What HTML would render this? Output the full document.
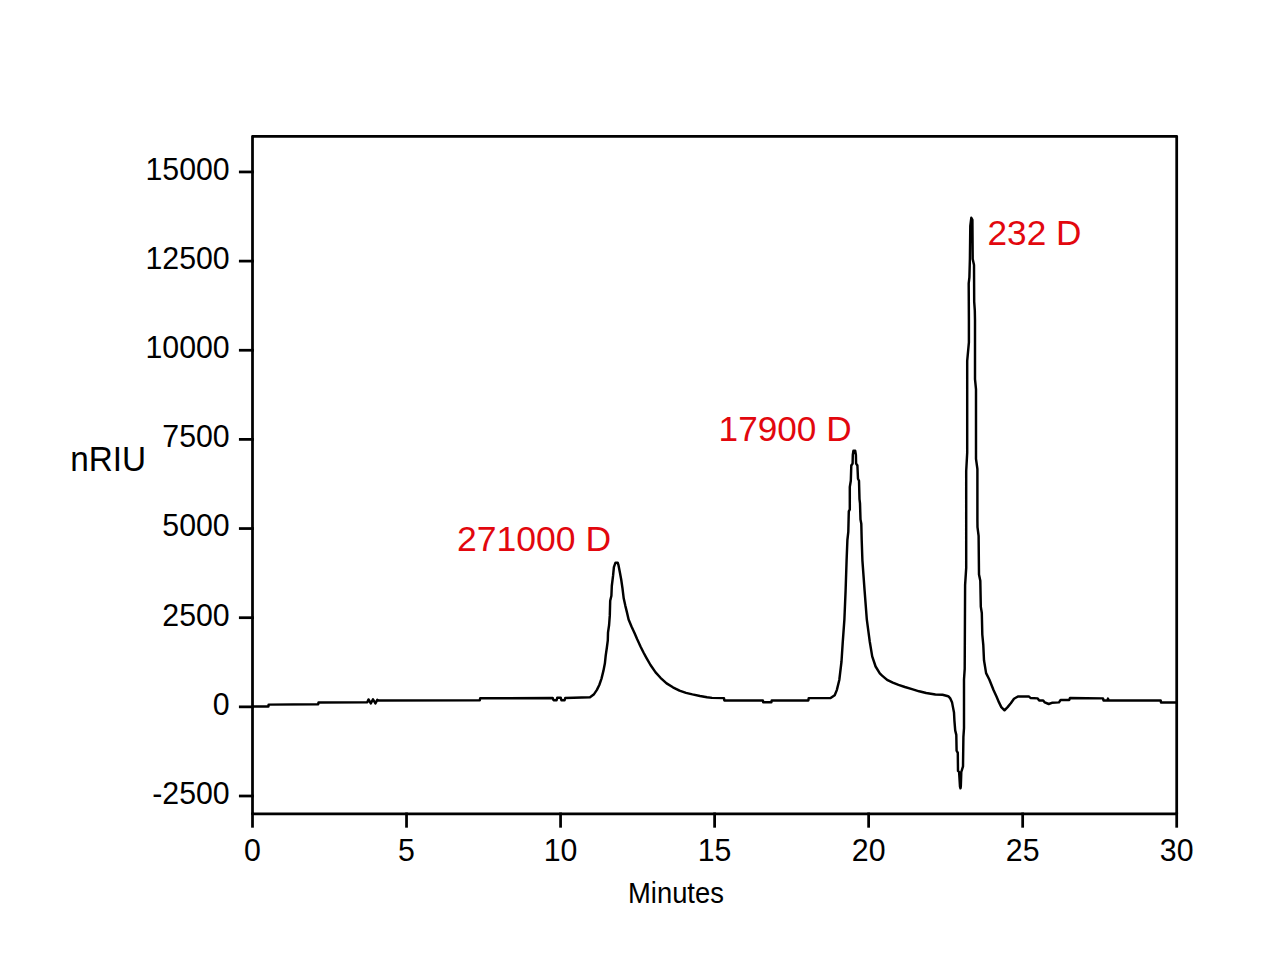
<!DOCTYPE html>
<html><head><meta charset="utf-8"><style>
html,body{margin:0;padding:0;background:#fff;width:1266px;height:980px;overflow:hidden}
svg{position:absolute;left:0;top:0;display:block}
text{font-family:"Liberation Sans",sans-serif}
</style></head><body>
<svg width="1266" height="980" viewBox="0 0 1266 980">
<g stroke="#000" stroke-width="2.75" fill="none" stroke-linecap="square">
<rect x="252.5" y="136.3" width="924.20" height="677.60" stroke-linejoin="round"/>
<line x1="240.3" y1="796.00" x2="252.50" y2="796.00"/><line x1="240.3" y1="706.85" x2="252.50" y2="706.85"/><line x1="240.3" y1="617.70" x2="252.50" y2="617.70"/><line x1="240.3" y1="528.55" x2="252.50" y2="528.55"/><line x1="240.3" y1="439.40" x2="252.50" y2="439.40"/><line x1="240.3" y1="350.25" x2="252.50" y2="350.25"/><line x1="240.3" y1="261.10" x2="252.50" y2="261.10"/><line x1="240.3" y1="171.95" x2="252.50" y2="171.95"/>
<line x1="252.50" y1="813.90" x2="252.50" y2="826.3"/><line x1="406.53" y1="813.90" x2="406.53" y2="826.3"/><line x1="560.57" y1="813.90" x2="560.57" y2="826.3"/><line x1="714.60" y1="813.90" x2="714.60" y2="826.3"/><line x1="868.63" y1="813.90" x2="868.63" y2="826.3"/><line x1="1022.67" y1="813.90" x2="1022.67" y2="826.3"/><line x1="1176.70" y1="813.90" x2="1176.70" y2="826.3"/>
</g>
<polyline points="252.5,706.5 268.4,706.5 268.6,704.6 318.2,704.2 318.5,702.4 367.3,702.3 368.5,699.4 370.8,703.4 373.0,699.4 375.4,703.4 377.3,699.9 378.2,700.4 479.8,700.3 480.2,698.3 552.7,698.0 553.5,700.2 556.6,700.2 557.2,697.8 560.8,697.8 561.4,700.2 564.6,700.2 565.2,698.0 590.0,697.3 593.7,694.6 596.9,689.9 599.3,685.0 601.5,678.6 603.4,670.9 604.9,663.3 605.7,655.6 606.8,648.0 607.8,640.3 608.0,632.7 609.1,625.0 609.8,615.4 610.2,600.7 611.4,595.8 611.8,586.0 613.1,575.4 613.9,567.2 615.5,562.7 617.7,562.7 618.4,564.8 620.0,573.0 621.2,579.5 622.4,587.7 623.7,598.3 625.3,605.6 626.9,612.1 628.6,619.5 631.5,626.5 634.5,633.0 637.2,639.3 640.5,646.5 643.5,652.5 646.4,657.8 650.5,665.0 655.6,672.4 660.5,677.8 666.6,683.4 672.9,687.3 679.5,690.6 686.0,692.9 692.4,694.4 700.0,696.0 707.0,697.2 712.0,697.9 724.0,698.1 724.3,700.4 762.9,700.4 763.2,702.2 771.4,702.2 771.7,700.4 808.4,700.4 808.7,698.1 830.6,698.1 834.7,695.3 836.8,690.1 839.3,680.0 841.5,661.5 842.7,642.9 844.4,619.3 845.6,590.6 846.6,560.3 847.4,540.0 848.3,531.8 848.8,511.4 849.8,509.4 849.8,486.9 850.8,480.8 851.3,465.5 852.6,463.5 852.8,455.0 853.4,450.8 855.2,450.8 855.9,455.0 856.1,463.5 857.4,465.5 858.0,478.8 859.0,480.8 859.5,499.2 860.0,503.3 860.5,519.6 861.3,523.7 861.7,540.0 862.4,560.3 864.6,590.6 866.8,619.3 869.7,641.2 872.2,656.4 875.6,666.5 879.8,673.3 882.1,675.6 887.1,679.9 892.8,682.7 898.5,684.9 904.9,687.0 912.0,689.1 919.1,691.3 926.2,693.0 935.4,694.5 942.5,694.8 948.2,696.2 950.3,698.4 952.1,702.6 952.9,706.9 954.0,712.5 954.4,720.3 955.2,730.4 956.3,734.9 956.6,750.7 957.8,752.9 958.0,770.9 959.1,772.0 960.0,786.6 960.5,788.3 960.8,786.6 961.3,772.0 963.0,766.4 963.4,737.2 964.0,728.2 964.0,720.3 964.0,679.5 964.7,668.8 965.1,585.1 966.2,567.9 966.2,520.0 966.2,471.0 967.2,452.7 967.2,360.8 968.9,342.4 968.9,320.0 968.7,283.4 969.4,277.3 969.9,259.0 970.3,225.9 971.3,217.8 972.4,219.8 972.7,259.0 974.0,265.1 974.2,301.8 974.8,310.4 975.0,320.0 975.0,379.2 976.0,389.4 976.0,458.8 977.4,469.0 977.4,520.0 977.5,527.2 978.6,535.8 979.0,574.4 980.3,580.8 980.8,606.6 981.8,613.0 982.3,634.5 983.3,645.2 984.0,660.2 986.1,673.1 989.3,679.5 993.6,690.3 996.6,696.8 999.0,702.4 1001.3,707.1 1004.5,710.3 1007.6,707.1 1010.8,703.2 1014.0,698.8 1017.9,696.5 1029.0,696.5 1030.5,698.0 1037.7,698.4 1039.2,700.4 1043.2,700.4 1044.8,702.4 1048.7,704.0 1051.9,702.8 1059.0,702.4 1060.6,700.0 1069.2,700.0 1070.0,698.0 1103.0,698.4 1103.5,700.4 1107.5,700.4 1108.0,698.6 1108.6,700.4 1160.7,700.4 1161.0,702.5 1178.0,702.5" fill="none" stroke="#000" stroke-width="2.45" stroke-linejoin="round"/>
<g font-size="30.3" fill="#000">
<text transform="translate(229.7 803.90) scale(1 1.040)" text-anchor="end">-2500</text><text transform="translate(229.7 714.75) scale(1 1.040)" text-anchor="end">0</text><text transform="translate(229.7 625.60) scale(1 1.040)" text-anchor="end">2500</text><text transform="translate(229.7 536.45) scale(1 1.040)" text-anchor="end">5000</text><text transform="translate(229.7 447.30) scale(1 1.040)" text-anchor="end">7500</text><text transform="translate(229.7 358.15) scale(1 1.040)" text-anchor="end">10000</text><text transform="translate(229.7 269.00) scale(1 1.040)" text-anchor="end">12500</text><text transform="translate(229.7 179.85) scale(1 1.040)" text-anchor="end">15000</text>
<text transform="translate(252.50 860.8) scale(1 1.040)" text-anchor="middle">0</text><text transform="translate(406.53 860.8) scale(1 1.040)" text-anchor="middle">5</text><text transform="translate(560.57 860.8) scale(1 1.040)" text-anchor="middle">10</text><text transform="translate(714.60 860.8) scale(1 1.040)" text-anchor="middle">15</text><text transform="translate(868.63 860.8) scale(1 1.040)" text-anchor="middle">20</text><text transform="translate(1022.67 860.8) scale(1 1.040)" text-anchor="middle">25</text><text transform="translate(1176.70 860.8) scale(1 1.040)" text-anchor="middle">30</text>
</g>
<text transform="translate(70.2 470.7) scale(0.986 1.045)" font-size="33.8" fill="#000">nRIU</text>
<text transform="translate(628.0 903) scale(1 1.045)" font-size="27.4" fill="#000">Minutes</text>
<g font-size="35.2" fill="#e2070e">
<text x="457" y="551" font-size="35.55">271000 D</text>
<text x="718.6" y="441">17900 D</text>
<text x="987.5" y="244.5">232 D</text>
</g>
</svg>
</body></html>
